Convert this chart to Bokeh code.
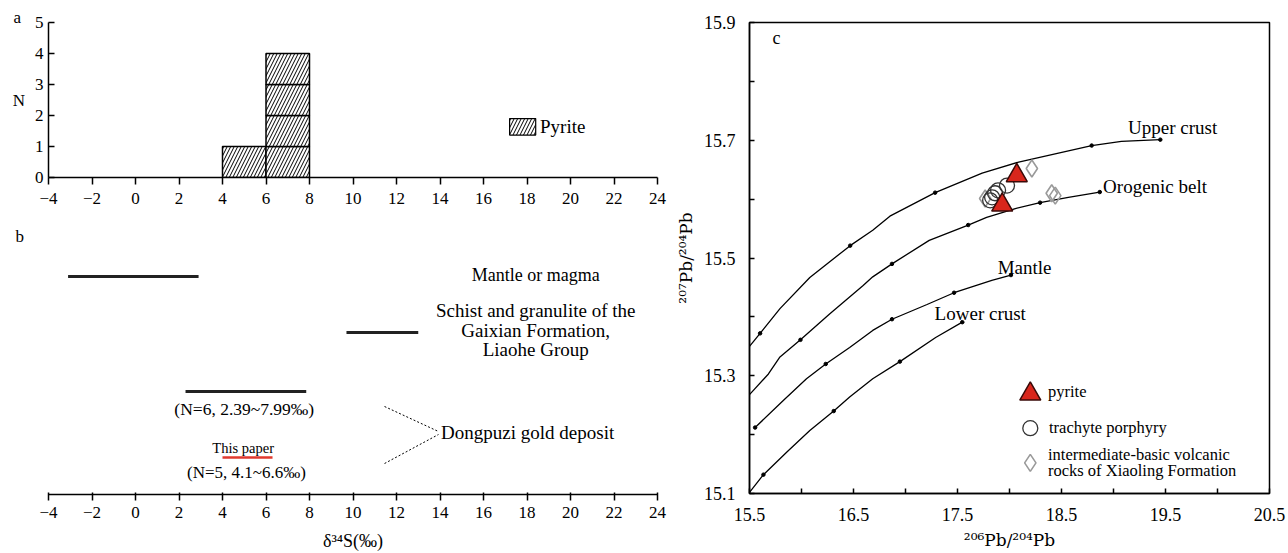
from bokeh.plotting import figure
from bokeh.layouts import row, column
from bokeh.models import Range1d, FixedTicker, Label, Title
from bokeh.embed import file_html
from bokeh.resources import INLINE
from bokeh.core.properties import value

FONT = "Liberation Serif"
SUP_FONT = "DejaVu Serif"

# ---------------- Panel a: histogram of d34S (pyrite) ----------------
bin_left = [4, 6]
bin_right = [6, 8]
bin_count = [1, 4]
a_xticks = [-4, -2, 0, 2, 4, 6, 8, 10, 12, 14, 16, 18, 20, 22, 24]
a_yticks = [0, 1, 2, 3, 4, 5]
legend_a_label = "Pyrite"

# ---------------- Panel b: d34S ranges ----------------
b_names = ["Mantle or magma", "Schist", "Dongpuzi", "This paper"]
b_lo = [-3.1, 9.7, 2.3, 4.0]
b_hi = [2.9, 13.0, 7.85, 6.3]
b_colors = ["#222222", "#222222", "#222222", "#e03a2f"]
b_widths = [3, 3, 3, 2.5]
b_row = [218, 162, 103, 37]          # vertical layout level of each bar

# ---------------- Panel c: Pb isotopes ----------------
upper_x = [15.5, 15.602, 15.793, 16.08, 16.468, 16.685, 16.85, 17.285, 17.737, 18.088, 18.79, 19.076, 19.45]
upper_y = [15.350, 15.372, 15.414, 15.467, 15.521, 15.547, 15.571, 15.611, 15.644, 15.663, 15.691, 15.698, 15.701]
upper_dots = [1, 4, 7, 10, 12]
orogen_x = [15.5, 15.682, 15.793, 15.99, 16.27, 16.59, 16.685, 16.87, 17.228, 17.603, 17.78, 18.056, 18.294, 18.566, 18.868]
orogen_y = [15.268, 15.303, 15.332, 15.361, 15.405, 15.453, 15.468, 15.490, 15.530, 15.556, 15.569, 15.584, 15.594, 15.603, 15.612]
orogen_dots = [3, 7, 9, 12, 14]
mantle_x = [15.554, 15.825, 16.048, 16.233, 16.463, 16.685, 16.87, 17.207, 17.467, 17.83, 18.014]
mantle_y = [15.212, 15.258, 15.295, 15.320, 15.348, 15.377, 15.396, 15.421, 15.441, 15.462, 15.471]
mantle_dots = [0, 3, 6, 8, 10]
lower_x = [15.5, 15.634, 15.857, 16.08, 16.31, 16.463, 16.685, 16.946, 17.29, 17.546]
lower_y = [15.102, 15.132, 15.170, 15.207, 15.240, 15.264, 15.295, 15.324, 15.365, 15.391]
lower_dots = [1, 4, 7, 9]

pyrite_x = [18.07, 17.93]
pyrite_y = [15.640, 15.590]
trachyte_x = [17.976, 17.89, 17.861, 17.833, 17.814]
trachyte_y = [15.623, 15.615, 15.610, 15.603, 15.598]
volc_x = [18.215, 18.406, 18.44, 17.766]
volc_y = [15.652, 15.610, 15.606, 15.601]

c_xticks = [15.5, 16.5, 17.5, 18.5, 19.5, 20.5]
c_xminor = [16.0, 17.0, 18.0, 19.0, 20.0]
c_yticks = [15.1, 15.3, 15.5, 15.7, 15.9]
c_yminor = [15.2, 15.4, 15.6, 15.8]

HATCH = dict(hatch_pattern="/", hatch_color="black", hatch_scale=7, hatch_weight=1)


def style_axis(ax, size="17px"):
    ax.axis_line_color = "black"
    ax.axis_line_width = 1.5
    ax.major_tick_line_color = "black"
    ax.major_tick_line_width = 1.5
    ax.minor_tick_line_color = "black"
    ax.minor_tick_line_width = 1.5
    ax.major_label_text_font = FONT
    ax.major_label_text_font_size = size
    ax.major_label_text_color = "black"
    ax.axis_label_text_font = FONT
    ax.axis_label_text_font_style = "normal"
    ax.axis_label_text_color = "black"


def txt(p, x, y, s, size="17px", align="left", baseline="middle", color="black"):
    p.add_layout(Label(x=x, y=y, text=s, text_font=FONT, text_font_size=size,
                       text_align=align, text_baseline=baseline, text_color=color))


def panel_tag(p, s, offset, standoff):
    t = Title(text=s, align="left", offset=offset, text_font=FONT, text_font_size="17px",
              text_font_style="normal", text_color="black", standoff=0)
    try:
        t.standoff = standoff
    except Exception:
        pass
    p.add_layout(t, "above")


minus = {-4: "\u22124", -2: "\u22122"}

# ================= Panel a =================
pa = figure(width=672, height=210, x_range=Range1d(-4, 24), y_range=Range1d(0, 5),
            output_backend="svg", toolbar_location=None,
            min_border_left=48, min_border_right=15, min_border_top=22, min_border_bottom=33)
pa.outline_line_color = None
pa.grid.visible = False
lefts, rights, bottoms, tops = [], [], [], []
for l, r, c in zip(bin_left, bin_right, bin_count):
    for k in range(c):
        lefts.append(l); rights.append(r); bottoms.append(k); tops.append(k + 1)
pa.quad(left=lefts, right=rights, bottom=bottoms, top=tops, fill_color="white",
        line_color="black", line_width=1.5, **HATCH)
# legend swatch
pa.quad(left=[17.2], right=[18.4], bottom=[1.37], top=[1.9], fill_color="white",
        line_color="black", line_width=1.2, **HATCH)
txt(pa, 18.6, 1.63, legend_a_label, size="19px")
panel_tag(pa, "a", -35, -9)

pa.xaxis.ticker = FixedTicker(ticks=a_xticks)
pa.yaxis.ticker = FixedTicker(ticks=a_yticks)
for ax in (pa.xaxis, pa.yaxis):
    style_axis(ax)
pa.xaxis.major_label_overrides = minus
pa.xaxis.major_tick_in = 0
pa.xaxis.major_tick_out = 7
pa.xaxis.minor_tick_in = 0
pa.xaxis.minor_tick_out = 0
pa.xaxis.major_label_standoff = 8
pa.yaxis.major_tick_in = 6
pa.yaxis.major_tick_out = 0
pa.yaxis.minor_tick_in = 0
pa.yaxis.minor_tick_out = 0
pa.yaxis.major_label_standoff = 5
yax = pa.yaxis[0]
yax.axis_label = "N"
yax.axis_label_text_font_size = "17px"
yax.axis_label_standoff = 7
if "axis_label_orientation" in yax.properties():
    yax.axis_label_orientation = "horizontal"

# ================= Panel b =================
pb = figure(width=672, height=343, x_range=Range1d(-4, 24), y_range=Range1d(0, 249),
            output_backend="svg", toolbar_location=None, y_axis_location=None,
            min_border_left=48, min_border_right=15, min_border_top=35, min_border_bottom=59)
pb.outline_line_color = None
pb.grid.visible = False
for lo, hi, yv, col, w in zip(b_lo, b_hi, b_row, b_colors, b_widths):
    pb.segment(x0=[lo], y0=[yv], x1=[hi], y1=[yv], line_color=col, line_width=w)

txt(pb, 18.4, 220, "Mantle or magma", size="18px", align="center")
txt(pb, 18.4, 184, "Schist and granulite of the", size="19px", align="center")
txt(pb, 18.4, 164, "Gaixian Formation,", size="19px", align="center")
txt(pb, 18.4, 145, "Liaohe Group", size="19px", align="center")
txt(pb, 5.0, 86, "(N=6, 2.39~7.99\u2030)", size="17.5px", align="center")
txt(pb, 4.95, 47, "This paper", size="14.5px", align="center")
txt(pb, 5.1, 22, "(N=5, 4.1~6.6\u2030)", size="17px", align="center")
txt(pb, 14.05, 62, "Dongpuzi gold deposit", size="19px")
panel_tag(pb, "b", -33, 0)
pb.segment(x0=[11.45, 11.45], y0=[88, 31], x1=[13.93, 13.93], y1=[63, 60],
           line_color="black", line_width=1, line_dash="2 2")

pb.xaxis.ticker = FixedTicker(ticks=a_xticks)
style_axis(pb.xaxis)
pb.xaxis.major_label_overrides = minus
pb.xaxis.major_tick_in = 2
pb.xaxis.major_tick_out = 6
pb.xaxis.minor_tick_in = 0
pb.xaxis.minor_tick_out = 0
pb.xaxis.major_label_standoff = 6
pb.xaxis.axis_label = "\u03b4\u00b3\u2074S(\u2030)"
pb.xaxis.axis_label_text_font_size = "18px"
pb.xaxis.axis_label_standoff = 10

# ================= Panel c =================
pc = figure(width=616, height=553, x_range=Range1d(15.5, 20.5), y_range=Range1d(15.1, 15.9),
            output_backend="svg", toolbar_location=None,
            min_border_left=74, min_border_right=19, min_border_top=22, min_border_bottom=60)
pc.outline_line_color = "black"
pc.outline_line_width = 1.5
pc.grid.visible = False

for xs, ys, dots in ((upper_x, upper_y, upper_dots), (orogen_x, orogen_y, orogen_dots),
                     (mantle_x, mantle_y, mantle_dots), (lower_x, lower_y, lower_dots)):
    pc.line(xs, ys, line_color="black", line_width=1.3)
    pc.scatter([xs[i] for i in dots], [ys[i] for i in dots], size=3.5, color="black")

pc.text(x=[19.14, 18.9, 17.886, 17.28], y=[15.721, 15.621, 15.484, 15.405],
        text=["Upper crust", "Orogenic belt", "Mantle", "Lower crust"],
        text_font=value(FONT), text_font_size="19px", text_baseline="middle", text_align="left")
txt(pc, 15.72, 15.873, "c", size="18px")

pc.scatter(volc_x, volc_y, marker="diamond", size=17, fill_color=None,
           line_color="#9a9a9a", line_width=1.6)
pc.scatter(trachyte_x, trachyte_y, marker="circle", size=15, fill_color=None,
           line_color="#333333", line_width=1.3)
pc.scatter(pyrite_x, pyrite_y, marker="triangle", size=21, fill_color="#d8261c",
           line_color="#3a0a08", line_width=1.5)

# manual legend
pc.scatter([18.2], [15.269], marker="triangle", size=21, fill_color="#d8261c",
           line_color="#3a0a08", line_width=1.5)
pc.scatter([18.2], [15.211], marker="circle", size=15, fill_color=None,
           line_color="#333333", line_width=1.3)
pc.scatter([18.2], [15.152], marker="diamond", size=17, fill_color=None,
           line_color="#9a9a9a", line_width=1.6)
txt(pc, 18.37, 15.273, "pyrite", size="16.5px")
txt(pc, 18.38, 15.212, "trachyte porphyry", size="16.5px")
txt(pc, 18.37, 15.167, "intermediate-basic volcanic", size="16.5px")
txt(pc, 18.37, 15.139, "rocks of Xiaoling Formation", size="16.5px")

pc.xaxis.ticker = FixedTicker(ticks=c_xticks, minor_ticks=c_xminor)
pc.yaxis.ticker = FixedTicker(ticks=c_yticks, minor_ticks=c_yminor)
for ax in (pc.xaxis, pc.yaxis):
    style_axis(ax, size="18px")
    ax.major_tick_in = 5
    ax.major_tick_out = 0
    ax.minor_tick_in = 5
    ax.minor_tick_out = 0
    ax.axis_label_text_font = SUP_FONT
    ax.axis_label_text_font_size = "17px"
pc.xaxis.major_label_standoff = 14
pc.yaxis.major_label_standoff = 14
pc.xaxis.axis_label = "\u00b2\u2070\u2076Pb/\u00b2\u2070\u2074Pb"
pc.yaxis.axis_label = "\u00b2\u2070\u2077Pb/\u00b2\u2070\u2074Pb"
pc.xaxis.axis_label_standoff = 6
pc.yaxis.axis_label_standoff = 5

layout = row(column(pa, pb), pc)
open("out.html", "w").write(file_html(layout, INLINE))
